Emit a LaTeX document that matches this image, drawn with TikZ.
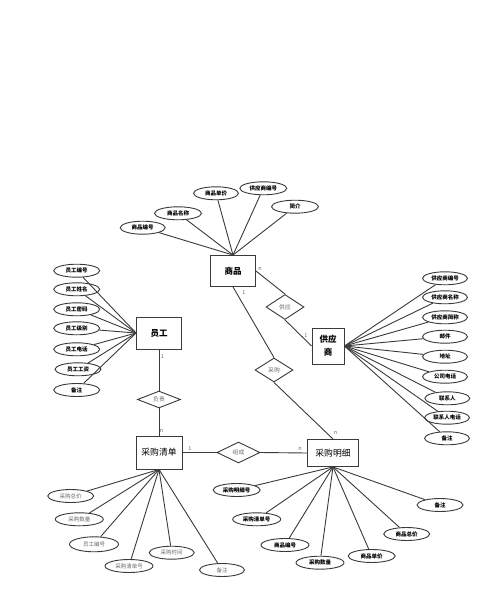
\documentclass[tikz,border=0pt]{standalone}
\usepackage{fontspec}
\setmainfont{Noto Sans CJK SC}
\usepackage{xcolor}
\usetikzlibrary{shapes.geometric}
\definecolor{linegray}{HTML}{3A3A3A}
\definecolor{textgray}{HTML}{6A6A6A}

\begin{document}
\begin{tikzpicture}[
x=1pt, y=-1pt,
line/.style={draw=linegray, line width=0.9pt},
entity/.style={draw=linegray, line width=0.9pt, fill=white, inner sep=0pt, align=center, font=\fontsize{8.5}{13}\selectfont\bfseries},
entitylt/.style={entity, font=\fontsize{8.8}{11}\selectfont},
rel/.style={draw=linegray, line width=0.9pt, diamond, inner sep=0pt, fill=white, text=textgray, font=\fontsize{5.8}{7}\selectfont},
attr/.style={draw=linegray, line width=0.9pt, ellipse, minimum width=46, minimum height=13, inner sep=0pt, fill=white, font=\fontsize{5.5}{6}\selectfont\bfseries},
attrlt/.style={attr, text=textgray, font=\fontsize{5.5}{6}\selectfont},
card/.style={inner sep=0pt, text=textgray, font=\fontsize{5.5}{6}\selectfont}
]
\useasboundingbox (0,0) rectangle (500,604);

% entities
\node[entity, minimum width=45, minimum height=31] (sp) at (233,271) {商品};
\node[entity, minimum width=45, minimum height=32] (yg) at (159,333) {员工};
\node[entity, minimum width=32, minimum height=36] (gys) at (328,346) {供应\\商};
\node[entitylt, minimum width=46, minimum height=33] (qd) at (159,452.5) {采购清单};
\node[entitylt, minimum width=51, minimum height=27] (mx) at (333,453) {采购明细};

% relations
\node[rel, minimum width=38, minimum height=25] (gy) at (285,307) {供应};
\node[rel, minimum width=38, minimum height=24] (cg) at (274,370) {采购};
\node[rel, minimum width=43, minimum height=15] (fz) at (159,399.5) {负责};
\node[rel, minimum width=43, minimum height=21] (zc) at (238.5,452.5) {组成};

\draw[line] (sp.east) -- (gy.north);
\draw[line] (gy.south) -- (gys.west);
\draw[line] (sp.south) -- (cg.north);
\draw[line] (cg.south) -- (mx.north);
\draw[line] (yg.south) -- (fz.north);
\draw[line] (fz.south) -- (qd.north);
\draw[line] (qd.east) -- (zc.west);
\draw[line] (zc.east) -- (mx.west);

% cardinalities
\node[card] (c1) at (260,269) {n};
\node[card] (c2) at (306,335.5) {1};
\node[card] (c3) at (244,293) {1};
\node[card] (c4) at (335.5,433) {n};
\node[card] (c5) at (162.5,357) {1};
\node[card] (c6) at (161.5,431) {n};
\node[card] (c7) at (190,449) {1};
\node[card] (c8) at (300,449) {n};

% attributes of 商品
\node[attr, minimum width=45] (sp1) at (142.7,227.7) {商品编号};
\node[attr, minimum width=47] (sp2) at (178,213.3) {商品名称};
\node[attr, minimum width=45] (sp3) at (216,193.3) {商品单价};
\node[attr, minimum width=47] (sp4) at (263.3,188.3) {供应商编号};
\node[attr, minimum width=47] (sp5) at (295,206.7) {简介};
\draw[line] (sp1) -- (sp.north);
\draw[line] (sp2) -- (sp.north);
\draw[line] (sp3) -- (sp.north);
\draw[line] (sp4) -- (sp.north);
\draw[line] (sp5) -- (sp.north);

% attributes of 员工
\node[attr] (yg1) at (76.7,270.7) {员工编号};
\node[attr] (yg2) at (76.7,289.3) {员工姓名};
\node[attr] (yg3) at (76.7,309.3) {员工密码};
\node[attr] (yg4) at (76.7,328.3) {员工级别};
\node[attr] (yg5) at (76.7,349.3) {员工电话};
\node[attr] (yg6) at (78,369.3) {员工工资};
\node[attr] (yg7) at (76.7,390) {备注};
\draw[line] (yg1) -- (yg.west);
\draw[line] (yg2) -- (yg.west);
\draw[line] (yg3) -- (yg.west);
\draw[line] (yg4) -- (yg.west);
\draw[line] (yg5) -- (yg.west);
\draw[line] (yg6) -- (yg.west);
\draw[line] (yg7) -- (yg.west);

% attributes of 供应商
\node[attr, minimum width=45] (gys1) at (445,278.3) {供应商编号};
\node[attr, minimum width=45] (gys2) at (445,297.3) {供应商名称};
\node[attr, minimum width=45] (gys3) at (445,317.3) {供应商简称};
\node[attr, minimum width=45] (gys4) at (445,336.7) {邮件};
\node[attr, minimum width=45] (gys5) at (445,356.7) {地址};
\node[attr, minimum width=45] (gys6) at (445,376.7) {公司电话};
\node[attr, minimum width=45] (gys7) at (447.3,398.3) {联系人};
\node[attr, minimum width=45] (gys8) at (447,417.7) {联系人电话};
\node[attr, minimum width=45] (gys9) at (447,438.3) {备注};
\draw[line] (gys1) -- (gys.east);
\draw[line] (gys2) -- (gys.east);
\draw[line] (gys3) -- (gys.east);
\draw[line] (gys4) -- (gys.east);
\draw[line] (gys5) -- (gys.east);
\draw[line] (gys6) -- (gys.east);
\draw[line] (gys7) -- (gys.east);
\draw[line] (gys8) -- (gys.east);
\draw[line] (gys9) -- (gys.east);

% attributes of 采购清单
\node[attrlt] (qd1) at (70.7,496) {采购总价};
\node[attrlt, minimum width=48] (qd2) at (79.3,519.3) {采购数量};
\node[attrlt, minimum width=49, minimum height=15] (qd3) at (94,544.3) {员工编号};
\node[attrlt, minimum width=48] (qd4) at (129,566) {采购清单号};
\node[attrlt, minimum width=45] (qd5) at (171.7,552.7) {采购时间};
\node[attrlt, minimum width=45] (qd6) at (222,570) {备注};
\draw[line] (qd1) -- (qd.south);
\draw[line] (qd2) -- (qd.south);
\draw[line] (qd3) -- (qd.south);
\draw[line] (qd4) -- (qd.south);
\draw[line] (qd5) -- (qd.south);
\draw[line] (qd6) -- (qd.south);

% attributes of 采购明细
\node[attr, minimum width=47] (mx1) at (236.7,490) {采购明细号};
\node[attr, minimum width=48] (mx2) at (256.7,519.3) {采购清单号};
\node[attr, minimum width=48] (mx3) at (285,545) {商品编号};
\node[attr, minimum width=48] (mx4) at (320,562.7) {采购数量};
\node[attr, minimum width=47] (mx5) at (371.7,556) {商品单价};
\node[attr, minimum width=46] (mx6) at (406.7,534) {商品总价};
\node[attr, minimum width=46] (mx7) at (440,505) {备注};
\draw[line] (mx1) -- (mx.south);
\draw[line] (mx2) -- (mx.south);
\draw[line] (mx3) -- (mx.south);
\draw[line] (mx4) -- (mx.south);
\draw[line] (mx5) -- (mx.south);
\draw[line] (mx6) -- (mx.south);
\draw[line] (mx7) -- (mx.south);
\end{tikzpicture}
\end{document}
